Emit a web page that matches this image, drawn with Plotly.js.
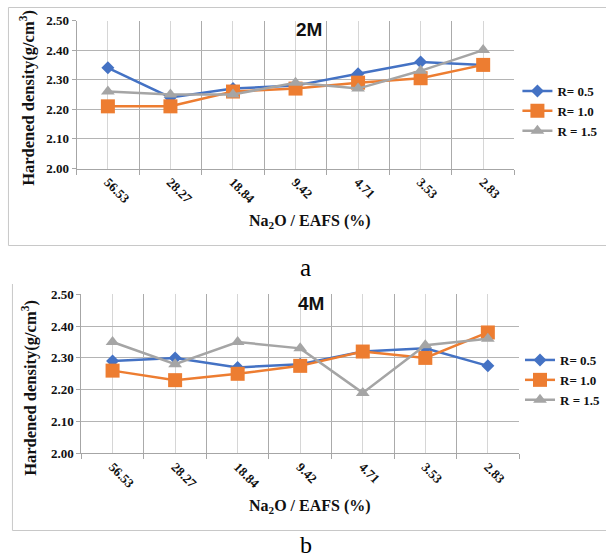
<!DOCTYPE html>
<html>
<head>
<meta charset="utf-8">
<script src="https://cdn.plot.ly/plotly-3.0.1.min.js"></script>
<style>
  html, body { margin: 0; padding: 0; background: #ffffff; }
  #chart { width: 606px; height: 558px; }
</style>
</head>
<body>
<div id="chart"></div>
<script>
// ---- data ----
const categories = ['56.53', '28.27', '18.84', '9.42', '4.71', '3.53', '2.83'];
const seriesNames = ['R= 0.5', 'R= 1.0', 'R = 1.5'];

// 2M (panel a)
const m2_R05 = [2.34, 2.24, 2.27, 2.28, 2.32, 2.36, 2.35];
const m2_R10 = [2.21, 2.21, 2.26, 2.27, 2.29, 2.305, 2.35];
const m2_R15 = [2.26, 2.25, 2.25, 2.29, 2.27, 2.33, 2.40];

// 4M (panel b)
const m4_R05 = [2.29, 2.30, 2.27, 2.28, 2.32, 2.33, 2.275];
const m4_R10 = [2.26, 2.23, 2.25, 2.275, 2.32, 2.30, 2.38];
const m4_R15 = [2.35, 2.28, 2.35, 2.33, 2.19, 2.34, 2.36];

const yTickVals = [2.00, 2.10, 2.20, 2.30, 2.40, 2.50];
const yTickText = ['2.00', '2.10', '2.20', '2.30', '2.40', '2.50'];

// ---- styling ----
const W = 606, H = 558;
const colors = ['#4472C4', '#ED7D31', '#A5A5A5'];
const symbols = ['diamond', 'square', 'triangle-up'];
const msizes = [10, 14, 12];
const serif = 'Liberation Serif, Times New Roman, serif';
const idx = categories.map((c, i) => i);
const bounds = categories.concat(['']).map((c, i) => i - 0.5);
const bold = s => '<b>' + s + '</b>';

function px2x(p) { return p / W; }
function px2y(p) { return 1 - p / H; }

function mkTraces(arrs, xa, ya, legendId) {
  return arrs.map((ys, k) => ({
    type: 'scatter', mode: 'lines+markers',
    x: idx, y: ys, xaxis: xa, yaxis: ya,
    name: bold(seriesNames[k]), legend: legendId,
    line: { color: colors[k], width: 2.5 },
    marker: { color: colors[k], symbol: symbols[k], size: msizes[k] },
    cliponaxis: false
  }));
}

const traces = []
  .concat(mkTraces([m2_R05, m2_R10, m2_R15], 'x', 'y', 'legend'))
  .concat(mkTraces([m4_R05, m4_R10, m4_R15], 'x2', 'y2', 'legend2'));

function xAxis(domain, anchor) {
  return {
    domain: domain, anchor: anchor,
    range: [-0.5, categories.length - 0.5],
    tickmode: 'array', tickvals: idx, ticktext: categories.map(bold),
    tickangle: 45, ticks: '',
    showgrid: true, gridcolor: '#d6d6d6', gridwidth: 1,
    showline: true, linecolor: '#a6a6a6', linewidth: 1,
    zeroline: false,
    tickfont: { family: serif, size: 13, color: '#111' },
    minor: {
      tickmode: 'array', tickvals: bounds,
      ticks: 'outside', ticklen: 5, tickcolor: '#a6a6a6',
      showgrid: true, gridcolor: '#ababab', gridwidth: 1
    }
  };
}
function yAxis(domain, anchor) {
  return {
    domain: domain, anchor: anchor,
    range: [2.0, 2.5],
    tickmode: 'array', tickvals: yTickVals, ticktext: yTickText.map(bold),
    ticks: 'outside', ticklen: 4, tickcolor: '#a6a6a6',
    showgrid: true, gridcolor: '#b4b4b4', gridwidth: 1,
    showline: true, linecolor: '#a6a6a6', linewidth: 1,
    zeroline: false,
    tickfont: { family: serif, size: 13, color: '#111' }
  };
}

const legendBase = {
  xanchor: 'left', yanchor: 'top',
  bgcolor: 'rgba(0,0,0,0)', borderwidth: 0,
  tracegroupgap: 0, itemwidth: 30,
  font: { family: serif, size: 13, color: '#111' }
};

const layout = {
  width: W, height: H,
  margin: { l: 0, r: 0, t: 0, b: 0 },
  paper_bgcolor: '#ffffff', plot_bgcolor: '#ffffff',
  showlegend: true,
  xaxis: xAxis([px2x(77), px2x(517)], 'y'),
  yaxis: yAxis([px2y(168.5), px2y(20.5)], 'x'),
  xaxis2: xAxis([px2x(81.7), px2x(521.7)], 'y2'),
  yaxis2: yAxis([px2y(453.3), px2y(294.3)], 'x2'),
  legend: Object.assign({}, legendBase, { x: px2x(520), y: px2y(76) }),
  legend2: Object.assign({}, legendBase, { x: px2x(523), y: px2y(345) }),
  shapes: [
    { type: 'rect', xref: 'paper', yref: 'paper', x0: px2x(8.5), x1: px2x(612), y0: px2y(245.5), y1: px2y(7.5),
      line: { color: '#c8c8c8', width: 1 }, fillcolor: 'rgba(0,0,0,0)', layer: 'below' },
    { type: 'line', xref: 'paper', yref: 'paper', x0: px2x(12.5), x1: px2x(12.5), y0: px2y(284), y1: px2y(530.5),
      line: { color: '#c8c8c8', width: 1 }, layer: 'below' },
    { type: 'line', xref: 'paper', yref: 'paper', x0: px2x(12.5), x1: px2x(612), y0: px2y(530.5), y1: px2y(530.5),
      line: { color: '#c8c8c8', width: 1 }, layer: 'below' }
  ],
  annotations: [
    { text: '<b>2M</b>', xref: 'paper', yref: 'paper', x: px2x(311), y: px2y(30), showarrow: false,
      xanchor: 'center', yanchor: 'middle',
      font: { family: 'Liberation Sans, Arial, sans-serif', size: 19, color: '#111' } },
    { text: '<b>4M</b>', xref: 'paper', yref: 'paper', x: px2x(313), y: px2y(303), showarrow: false,
      xanchor: 'center', yanchor: 'middle',
      font: { family: 'Liberation Sans, Arial, sans-serif', size: 19, color: '#111' } },
    { text: '<b>Na<sub>2</sub>O / EAFS (%)</b>', xref: 'paper', yref: 'paper', x: px2x(312), y: px2y(221), showarrow: false,
      xanchor: 'center', yanchor: 'middle',
      font: { family: serif, size: 16, color: '#111' } },
    { text: '<b>Na<sub>2</sub>O / EAFS (%)</b>', xref: 'paper', yref: 'paper', x: px2x(312), y: px2y(506), showarrow: false,
      xanchor: 'center', yanchor: 'middle',
      font: { family: serif, size: 16, color: '#111' } },
    { text: '<b>Hardened density(g/cm<sup>3</sup>)</b>', xref: 'paper', yref: 'paper', x: px2x(27), y: px2y(98), showarrow: false,
      textangle: -90, xanchor: 'center', yanchor: 'middle',
      font: { family: serif, size: 16.5, color: '#111' } },
    { text: '<b>Hardened density(g/cm<sup>3</sup>)</b>', xref: 'paper', yref: 'paper', x: px2x(29), y: px2y(388), showarrow: false,
      textangle: -90, xanchor: 'center', yanchor: 'middle',
      font: { family: serif, size: 16.5, color: '#111' } },
    { text: 'a', xref: 'paper', yref: 'paper', x: px2x(307.5), y: px2y(267), showarrow: false,
      xanchor: 'center', yanchor: 'middle',
      font: { family: serif, size: 25, color: '#000' } },
    { text: 'b', xref: 'paper', yref: 'paper', x: px2x(307.5), y: px2y(545), showarrow: false,
      xanchor: 'center', yanchor: 'middle',
      font: { family: serif, size: 24, color: '#000' } }
  ]
};

Plotly.newPlot('chart', traces, layout, { displayModeBar: false, staticPlot: true });
</script>
</body>
</html>
